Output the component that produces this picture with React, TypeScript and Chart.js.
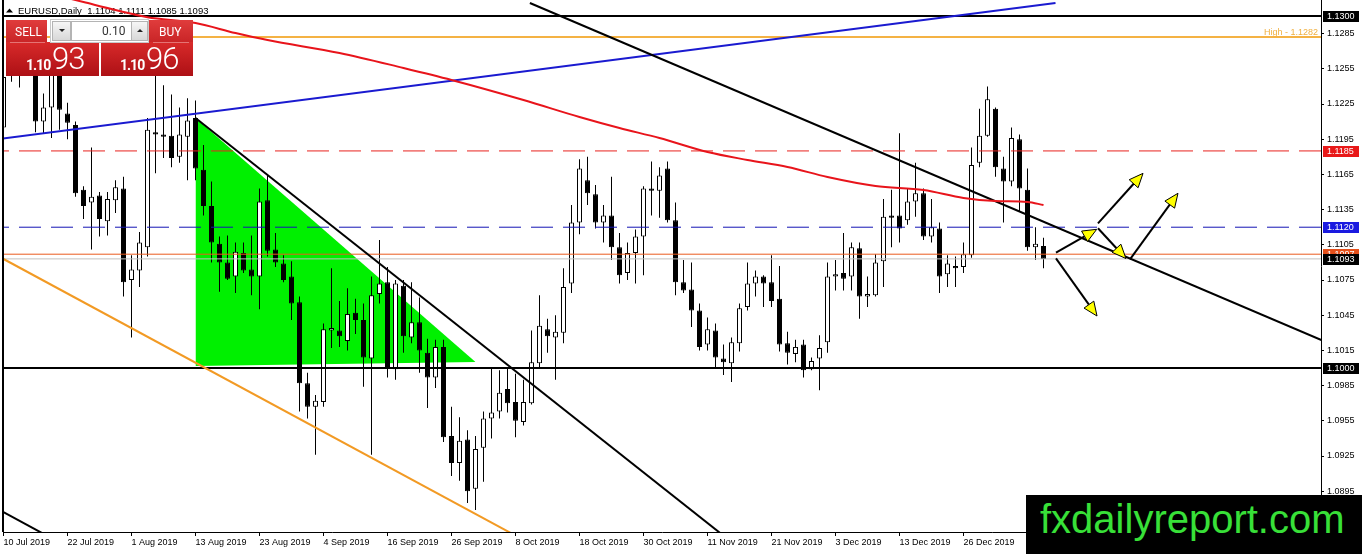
import React, { useEffect, useRef } from "react";
import { Chart, registerables } from "chart.js";

Chart.register(...registerables);

// ---------------- data ----------------
const barOpen = [
  1.1205, 1.1249, 1.1255, 1.1271, 1.1262, 1.121, 1.1222, 1.1274, 1.1217, 1.1207,
  1.1152, 1.1141, 1.1147, 1.1125, 1.1143, 1.1153, 1.1075, 1.1083, 1.1103, 1.1201,
  1.1199, 1.1198, 1.118, 1.1197, 1.1213, 1.1169, 1.1138, 1.1106, 1.109, 1.1078,
  1.1098, 1.1084, 1.1078, 1.1143, 1.1101, 1.1089, 1.1078, 1.1056, 1.0987, 1.0967,
  1.0971, 1.1032, 1.1032, 1.1023, 1.1047, 1.1041, 1.1008, 1.1063, 1.1073, 1.0999,
  1.107, 1.1026, 1.1039, 1.1013, 1.0992, 1.1018, 1.0942, 1.0919, 1.0939, 1.0897,
  1.0932, 1.0957, 1.0963, 1.0982, 1.0971, 1.0954, 1.097, 1.1004, 1.1033, 1.1026,
  1.103, 1.1072, 1.1124, 1.116, 1.1148, 1.1124, 1.113, 1.1103, 1.1081, 1.1098,
  1.1112, 1.1153, 1.1151, 1.117, 1.1126, 1.1073, 1.1067, 1.1049, 1.102, 1.1032,
  1.1008, 1.1004, 1.1021, 1.1052, 1.1072, 1.1078, 1.1073, 1.1059, 1.1021, 1.1012,
  1.102, 1.0999, 1.1008, 1.1022, 1.1078, 1.1081, 1.1078, 1.1102, 1.1061, 1.1062,
  1.1091, 1.113, 1.113, 1.1126, 1.1142, 1.1149, 1.1112, 1.1119, 1.108, 1.1087,
  1.1086, 1.1096, 1.1175, 1.1198, 1.1221, 1.117, 1.1159, 1.1195, 1.1152, 1.1103,
  1.1104,
];
const barHigh = [
  1.1264, 1.1281, 1.1279, 1.1282, 1.1268, 1.1234, 1.1282, 1.1278, 1.1226, 1.121,
  1.1155, 1.1188, 1.115, 1.115, 1.116, 1.1163, 1.1096, 1.1116, 1.1213, 1.125,
  1.1241, 1.1233, 1.1222, 1.123, 1.1228, 1.119, 1.1159, 1.1112, 1.1113, 1.1107,
  1.1107, 1.1113, 1.1153, 1.1164, 1.1115, 1.1096, 1.1091, 1.1061, 1.0996, 1.0977,
  1.1038, 1.1085, 1.1057, 1.1068, 1.1059, 1.1055, 1.1078, 1.1109, 1.1086, 1.1075,
  1.1075, 1.1073, 1.106, 1.1025, 1.1024, 1.1024, 1.0967, 1.0958, 1.0947, 1.0942,
  1.0963, 1.1, 1.0998, 1.1, 1.0995, 1.099, 1.1032, 1.1062, 1.1042, 1.1045,
  1.1085, 1.1139, 1.1178, 1.118, 1.1156, 1.1139, 1.1163, 1.1115, 1.1107, 1.1118,
  1.1155, 1.1176, 1.1171, 1.1176, 1.1141, 1.1092, 1.109, 1.1055, 1.1043, 1.1038,
  1.102, 1.1026, 1.1055, 1.109, 1.1083, 1.1079, 1.1096, 1.1087, 1.1031, 1.1024,
  1.1024, 1.1009, 1.1028, 1.109, 1.1092, 1.1115, 1.1107, 1.1107, 1.1078, 1.1097,
  1.1144, 1.1152, 1.12, 1.1153, 1.1175, 1.1153, 1.1144, 1.1124, 1.1096, 1.1095,
  1.1107, 1.1188, 1.1221, 1.124, 1.1222, 1.118, 1.1205, 1.1199, 1.117, 1.112,
  1.1111,
];
const barLow = [
  1.1199, 1.1244, 1.1239, 1.1252, 1.1201, 1.12, 1.1196, 1.1203, 1.1195, 1.1146,
  1.1127, 1.1101, 1.1112, 1.1113, 1.1132, 1.1061, 1.1026, 1.1069, 1.1095, 1.1166,
  1.1179, 1.1171, 1.1175, 1.116, 1.116, 1.113, 1.109, 1.1065, 1.1075, 1.1064,
  1.1081, 1.1062, 1.105, 1.1095, 1.1086, 1.1073, 1.1041, 1.0963, 1.0957, 1.0926,
  1.0967, 1.1017, 1.1018, 1.1015, 1.1029, 1.0984, 1.0926, 1.1055, 1.0992, 1.099,
  1.1013, 1.1021, 1.0996, 1.0966, 1.0983, 1.0937, 1.0908, 1.0904, 1.0885, 1.0879,
  1.0903, 1.094, 1.0957, 1.0962, 1.0941, 1.0951, 1.0969, 1.1, 1.1013, 1.099,
  1.1021, 1.1064, 1.1114, 1.1139, 1.1119, 1.1107, 1.1092, 1.1072, 1.1075, 1.1072,
  1.1079, 1.113, 1.1128, 1.1124, 1.1062, 1.1064, 1.1035, 1.1015, 1.1015, 1.1,
  1.0994, 1.0988, 1.1014, 1.1049, 1.1061, 1.1052, 1.1052, 1.1014, 1.1003, 1.1005,
  1.0992, 1.0998, 1.0981, 1.1013, 1.1066, 1.1066, 1.1066, 1.1042, 1.1052, 1.1061,
  1.1069, 1.1103, 1.1107, 1.1122, 1.1129, 1.1109, 1.1107, 1.1064, 1.1069, 1.1069,
  1.1081, 1.1094, 1.1171, 1.1197, 1.1163, 1.1124, 1.1155, 1.1133, 1.11, 1.1092,
  1.1085,
];
const barClose = [
  1.1248, 1.1255, 1.1271, 1.1262, 1.121, 1.1222, 1.1274, 1.122, 1.1209, 1.1149,
  1.1138, 1.1146, 1.1127, 1.1144, 1.1154, 1.1073, 1.1084, 1.1107, 1.1203, 1.1199,
  1.1197, 1.1179, 1.1199, 1.1211, 1.117, 1.1138, 1.1107, 1.109, 1.1076, 1.1099,
  1.1083, 1.1078, 1.1142, 1.11, 1.109, 1.1075, 1.1055, 1.0987, 1.0967, 1.0972,
  1.1033, 1.1034, 1.1027, 1.1046, 1.1041, 1.1009, 1.1062, 1.1072, 1.1, 1.1072,
  1.1027, 1.1039, 1.1015, 1.0992, 1.1018, 1.0941, 1.0919, 1.0938, 1.0895, 1.0931,
  1.0957, 1.0962, 1.0979, 1.097, 1.0955, 1.0971, 1.1005, 1.1036, 1.1027, 1.1031,
  1.1069, 1.1124, 1.117, 1.1149, 1.1124, 1.113, 1.1103, 1.1079, 1.1098, 1.1112,
  1.1153, 1.1151, 1.1164, 1.1126, 1.1073, 1.1066, 1.1049, 1.1018, 1.1033, 1.1009,
  1.1005, 1.1022, 1.1051, 1.1072, 1.1078, 1.1072, 1.1057, 1.102, 1.1013, 1.1018,
  1.0998, 1.1006, 1.1017, 1.1078, 1.108, 1.1076, 1.1103, 1.1061, 1.1063, 1.109,
  1.1129, 1.1128, 1.1119, 1.1142, 1.1149, 1.1112, 1.112, 1.1078, 1.1089, 1.1085,
  1.1097, 1.1173, 1.1198, 1.1229, 1.1171, 1.1159, 1.1196, 1.1153, 1.1103, 1.1106,
  1.1093,
];

const dateTickIndex = [0, 8, 16, 24, 32, 40, 48, 56, 64, 72, 80, 88, 96, 104, 112, 120];
const dateTickLabels = [
  "10 Jul 2019", "22 Jul 2019", "1 Aug 2019", "13 Aug 2019", "23 Aug 2019", "4 Sep 2019",
  "16 Sep 2019", "26 Sep 2019", "8 Oct 2019", "18 Oct 2019", "30 Oct 2019", "11 Nov 2019",
  "21 Nov 2019", "3 Dec 2019", "13 Dec 2019", "26 Dec 2019",
];
const priceTicks = [
  1.0895, 1.0925, 1.0955, 1.0985, 1.1015, 1.1045, 1.1075, 1.1105, 1.1135, 1.1165, 1.1195,
  1.1225, 1.1255, 1.1285,
];

// moving average (red curve)
const maIndex = [8, 10, 14, 18, 24, 29, 33, 42, 50, 56, 65, 72, 77, 82, 88, 93, 98, 103, 109, 115, 120, 124, 128, 130];
const maValue = [
  1.13153, 1.13119, 1.13051, 1.1299, 1.1294, 1.12855, 1.12795, 1.12685, 1.12557, 1.12455,
  1.12284, 1.12139, 1.12045, 1.1196, 1.11841, 1.11773, 1.11713, 1.11628, 1.11551, 1.11517,
  1.11449, 1.11423, 1.11415, 1.11389,
];

// trend lines: [startIndex, startPrice, endIndex, endPrice]
const trendBlue = [-1, 1.11947, 131.5, 1.13111];
const trendBlackLong = [65.8, 1.13111, 165, 1.1023];
const trendBlackTriangle = [24, 1.12131, 90, 1.08571];
const trendOrange = [0, 1.10929, 64, 1.08572];
const trendBlackShort = [-1, 1.08808, 6, 1.0855];

// green triangle
const triangleIndex = [24, 59];
const triangleTopPrice = [1.12131, 1.10051];
const triangleBasePrice = [1.10017, 1.10051];

// horizontal levels
const levelPrice = [1.13, 1.1282, 1.1185, 1.112, 1.1097, 1.1093, 1.1];
// price boxes on the axis
const boxPrice = [1.13, 1.1185, 1.112, 1.1097, 1.1093, 1.1];

// arrows
const arrowFromIndex = [131.56, 136.81, 136.81, 140.81, 131.56];
const arrowFromPrice = [1.10983, 1.11191, 1.11233, 1.10926, 1.10935];
const arrowToIndex = [136.65, 140.31, 142.44, 146.81, 136.69];
const arrowToPrice = [1.11182, 1.10933, 1.11659, 1.11489, 1.10443];

const symbolTitle = "EURUSD,Daily";
const quoteValues = ["1.1104", "1.1111", "1.1085", "1.1093"];
const lotSize = "0.10";
const sellQuote = ["1.10", "93"];
const buyQuote = ["1.10", "96"];
const watermark = "fxdailyreport.com";

// ---------------- styles ----------------
const FONT = "'Liberation Sans', Arial, sans-serif";
const X_MIN = -0.0625;
const X_MAX = X_MIN + 1318 / 8;
const Y_MIN = 1.086023;
const Y_MAX = 1.131364;

const levelStyle = [
  { color: "#000000", width: 2, dash: [] as number[] },
  { color: "#f4b244", width: 2, dash: [] as number[] },
  { color: "#e8221e", width: 1, dash: [22, 10] },
  { color: "#1414b4", width: 1, dash: [22, 10] },
  { color: "#ea5a1e", width: 1, dash: [] as number[] },
  { color: "#c0c0c0", width: 1, dash: [] as number[] },
  { color: "#000000", width: 2, dash: [] as number[] },
];
const boxColor = ["#000000", "#e81818", "#1a1ae0", "#e5501b", "#000000", "#000000"];

const seg = (t: number[]) => [
  { x: t[0], y: t[1] },
  { x: t[2], y: t[3] },
];

const mt4Plugin = {
  id: "mt4Decor",
  beforeDatasetsDraw(chart: any) {
    const ctx = chart.ctx as CanvasRenderingContext2D;
    ctx.save();
    ctx.fillStyle = "#000";
    ctx.beginPath();
    ctx.moveTo(6, 12.5);
    ctx.lineTo(13, 12.5);
    ctx.lineTo(9.5, 8.5);
    ctx.closePath();
    ctx.fill();
    ctx.font = `9.5px ${FONT}`;
    ctx.textBaseline = "alphabetic";
    ctx.textAlign = "left";
    ctx.fillText(`${symbolTitle}  ${quoteValues.join(" ")}`, 18, 13.5);
    ctx.restore();
  },
  afterDatasetsDraw(chart: any) {
    const ctx = chart.ctx as CanvasRenderingContext2D;
    const xs = chart.scales.x;
    const ys = chart.scales.y;
    const ca = chart.chartArea;
    ctx.save();
    ctx.beginPath();
    ctx.rect(ca.left, ca.top, ca.right - ca.left, ca.bottom - ca.top);
    ctx.clip();
    for (let k = 0; k < arrowFromIndex.length; k++) {
      const x0 = xs.getPixelForValue(arrowFromIndex[k]);
      const y0 = ys.getPixelForValue(arrowFromPrice[k]);
      const x1 = xs.getPixelForValue(arrowToIndex[k]);
      const y1 = ys.getPixelForValue(arrowToPrice[k]);
      const dx = x1 - x0;
      const dy = y1 - y0;
      const len = Math.hypot(dx, dy);
      const ux = dx / len;
      const uy = dy / len;
      const hl = 14;
      const hw = 6;
      const bx = x1 - ux * hl;
      const by = y1 - uy * hl;
      ctx.strokeStyle = "#000";
      ctx.lineWidth = 2;
      ctx.beginPath();
      ctx.moveTo(x0, y0);
      ctx.lineTo(bx, by);
      ctx.stroke();
      ctx.beginPath();
      ctx.moveTo(x1, y1);
      ctx.lineTo(bx - uy * hw, by + ux * hw);
      ctx.lineTo(bx + uy * hw, by - ux * hw);
      ctx.closePath();
      ctx.fillStyle = "#ffff00";
      ctx.fill();
      ctx.lineWidth = 1;
      ctx.stroke();
    }
    // label of the high line
    ctx.font = `9px ${FONT}`;
    ctx.fillStyle = "#f0b040";
    ctx.textAlign = "right";
    ctx.textBaseline = "alphabetic";
    ctx.fillText(`High - ${levelPrice[1].toFixed(4)}`, ca.right - 3, ys.getPixelForValue(levelPrice[1]) - 2.5);
    ctx.restore();
  },
  afterDraw(chart: any) {
    const ctx = chart.ctx as CanvasRenderingContext2D;
    const ys = chart.scales.y;
    const ca = chart.chartArea;
    ctx.save();
    ctx.fillStyle = "#000";
    ctx.fillRect(ca.left - 1, ca.top, 2, ca.bottom - ca.top);
    ctx.font = `9px ${FONT}`;
    ctx.textBaseline = "middle";
    ctx.textAlign = "left";
    boxPrice.forEach((p, k) => {
      const y = Math.round(ys.getPixelForValue(p));
      ctx.fillStyle = boxColor[k];
      ctx.fillRect(ca.right + 2, y - 5, 36, 11);
      ctx.fillStyle = "#fff";
      ctx.fillText(p.toFixed(4), ca.right + 6, y + 0.5);
    });
    ctx.restore();
  },
};

function buildConfig(): any {
  const bodies = barOpen.map((o, i) => ({
    x: i,
    y: [Math.min(o, barClose[i]), Math.max(o, barClose[i])],
  }));
  const wicks = barOpen.map((_, i) => ({ x: i, y: [barLow[i], barHigh[i]] }));
  const bodyColors = barOpen.map((o, i) => (barClose[i] >= o ? "#ffffff" : "#000000"));

  const lineBase = {
    type: "line",
    pointRadius: 0,
    fill: false,
    tension: 0,
  };

  const levelSets = levelPrice.map((p, k) => ({
    ...lineBase,
    data: [
      { x: X_MIN - 2, y: p },
      { x: X_MAX + 2, y: p },
    ],
    borderColor: levelStyle[k].color,
    borderWidth: levelStyle[k].width,
    borderDash: levelStyle[k].dash,
    order: 3,
  }));

  return {
    type: "bar",
    data: {
      datasets: [
        {
          ...lineBase,
          data: triangleIndex.map((x, k) => ({ x, y: triangleTopPrice[k] })),
          borderWidth: 0,
          fill: "+1",
          backgroundColor: "#00f000",
          order: 20,
        },
        {
          ...lineBase,
          data: triangleIndex.map((x, k) => ({ x, y: triangleBasePrice[k] })),
          borderWidth: 0,
          order: 21,
        },
        {
          type: "bar",
          data: wicks,
          backgroundColor: "#000000",
          borderWidth: 0,
          barThickness: 1,
          grouped: false,
          inflateAmount: 0,
          order: 11,
        },
        {
          type: "bar",
          data: bodies,
          backgroundColor: bodyColors,
          borderColor: "#000000",
          borderWidth: 1,
          borderSkipped: false,
          barThickness: 5,
          grouped: false,
          inflateAmount: 0,
          order: 10,
        },
        ...levelSets,
        { ...lineBase, data: seg(trendOrange), borderColor: "#f29a24", borderWidth: 2, order: 2 },
        { ...lineBase, data: seg(trendBlackShort), borderColor: "#000000", borderWidth: 2, order: 2 },
        { ...lineBase, data: seg(trendBlackTriangle), borderColor: "#000000", borderWidth: 2, order: 2 },
        { ...lineBase, data: seg(trendBlackLong), borderColor: "#000000", borderWidth: 2, order: 2 },
        { ...lineBase, data: seg(trendBlue), borderColor: "#1a1ad0", borderWidth: 2, order: 2 },
        {
          ...lineBase,
          data: maIndex.map((x, k) => ({ x, y: maValue[k] })),
          borderColor: "#e8141b",
          borderWidth: 2,
          cubicInterpolationMode: "monotone",
          order: 1,
        },
      ],
    },
    options: {
      responsive: false,
      animation: false,
      events: [],
      layout: { padding: { left: 3, top: 0, right: 0, bottom: 0 } },
      plugins: { legend: { display: false }, tooltip: { enabled: false } },
      scales: {
        x: {
          type: "linear",
          min: X_MIN,
          max: X_MAX,
          bounds: "data",
          offset: false,
          grid: { display: true, drawOnChartArea: false, drawTicks: true, tickLength: 4, color: "#000", offset: false },
          border: { display: true, color: "#000", width: 1 },
          ticks: {
            autoSkip: false,
            maxRotation: 0,
            minRotation: 0,
            align: "start",
            padding: 1,
            color: "#000",
            font: { family: FONT, size: 9 },
            callback: (_v: any, idx: number) => dateTickLabels[idx] ?? "",
          },
          afterBuildTicks: (s: any) => {
            s.ticks = dateTickIndex.map((v) => ({ value: v }));
          },
          afterFit: (s: any) => {
            s.height = 22;
            s.paddingLeft = 0;
            s.paddingRight = 0;
            s.paddingTop = 0;
            s.paddingBottom = 0;
          },
        },
        y: {
          type: "linear",
          position: "right",
          min: Y_MIN,
          max: Y_MAX,
          bounds: "data",
          beginAtZero: false,
          grid: { display: true, drawOnChartArea: false, drawTicks: true, tickLength: 3, color: "#000" },
          border: { display: true, color: "#000", width: 1 },
          ticks: {
            padding: 3,
            color: "#000",
            font: { family: FONT, size: 9 },
            callback: (v: any) => Number(v).toFixed(4),
          },
          afterBuildTicks: (s: any) => {
            s.ticks = priceTicks.map((v) => ({ value: v }));
          },
          afterFit: (s: any) => {
            s.width = 41;
            s.paddingLeft = 0;
            s.paddingRight = 0;
            s.paddingTop = 0;
            s.paddingBottom = 0;
          },
        },
      },
    },
    plugins: [mt4Plugin],
  };
}

const ROBOTO = "Roboto, 'Liberation Sans', sans-serif";

function Txt(props: {
  x: number;
  baseline: number;
  size: number;
  color: string;
  text: string;
  weight?: number;
  family?: string;
  spacing?: number;
}) {
  const top = props.baseline - 0.845 * props.size;
  return (
    <div
      style={{
        position: "absolute",
        left: props.x,
        top,
        fontSize: props.size,
        lineHeight: `${props.size}px`,
        fontWeight: props.weight ?? 400,
        color: props.color,
        fontFamily: props.family ?? ROBOTO,
        letterSpacing: props.spacing ?? 0,
        whiteSpace: "nowrap",
      }}
    >
      {props.text}
    </div>
  );
}

function TradePanel() {
  const abs: React.CSSProperties = { position: "absolute", boxSizing: "border-box" };
  const head = "linear-gradient(#e03c3c, #c92527)";
  const price = "linear-gradient(#d82a2a, #ad1015)";
  const btn = "linear-gradient(#f6f6f6, #d8d8d8)";
  return (
    <>
      <div style={{ ...abs, left: 6, top: 20, width: 41, height: 22, background: head }} />
      <div style={{ ...abs, left: 149, top: 20, width: 44, height: 22, background: head }} />
      <div style={{ ...abs, left: 6, top: 42, width: 93, height: 34, background: price }} />
      <div style={{ ...abs, left: 101, top: 42, width: 92, height: 34, background: price }} />
      <div style={{ ...abs, left: 10, top: 42, width: 35, height: 1, background: "rgba(255,255,255,0.35)" }} />
      <div style={{ ...abs, left: 153, top: 42, width: 36, height: 1, background: "rgba(255,255,255,0.35)" }} />
      <div style={{ ...abs, left: 50, top: 19, width: 99, height: 24, background: "#ffffff", border: "1px solid #c8c8c8" }} />
      <div style={{ ...abs, left: 52, top: 21, width: 19, height: 20, background: btn, border: "1px solid #b4b4b4" }} />
      <div style={{ ...abs, left: 71, top: 21, width: 61, height: 20, background: "#ffffff", border: "1px solid #b4b4b4" }} />
      <div style={{ ...abs, left: 131, top: 21, width: 17, height: 20, background: btn, border: "1px solid #b4b4b4" }} />
      <div
        style={{
          ...abs,
          left: 59,
          top: 29,
          width: 0,
          height: 0,
          borderLeft: "3px solid transparent",
          borderRight: "3px solid transparent",
          borderTop: "3px solid #222",
        }}
      />
      <div
        style={{
          ...abs,
          left: 137,
          top: 29,
          width: 0,
          height: 0,
          borderLeft: "3px solid transparent",
          borderRight: "3px solid transparent",
          borderBottom: "3px solid #222",
        }}
      />
      <Txt x={15} baseline={36} size={12} color="#ffffff" text="SELL" />
      <Txt x={159} baseline={36} size={12} color="#ffffff" text="BUY" />
      <Txt x={102} baseline={35} size={12} color="#333333" text={lotSize} />
      <Txt x={26} baseline={70} size={14} weight={700} spacing={-1} color="#ffffff" text={sellQuote[0]} />
      <Txt x={52} baseline={69} size={31} weight={300} spacing={-1} color="#ffffff" text={sellQuote[1]} />
      <Txt x={120} baseline={70} size={14} weight={700} spacing={-1} color="#ffffff" text={buyQuote[0]} />
      <Txt x={146} baseline={69} size={31} weight={300} spacing={-1} color="#ffffff" text={buyQuote[1]} />
    </>
  );
}

export default function App() {
  const ref = useRef<HTMLCanvasElement>(null);
  useEffect(() => {
    document.body.style.margin = "0";
    const chart = new Chart(ref.current as HTMLCanvasElement, buildConfig());
    return () => chart.destroy();
  }, []);
  return (
    <div
      style={{
        position: "fixed",
        left: 0,
        top: 0,
        width: 1362,
        height: 554,
        background: "#ffffff",
        overflow: "hidden",
      }}
    >
      <canvas
        ref={ref}
        width={1362}
        height={554}
        style={{ display: "block", width: 1362, height: 554 }}
      />
      <TradePanel />
      <div
        style={{
          position: "absolute",
          left: 1026,
          top: 495,
          width: 336,
          height: 59,
          background: "#000000",
        }}
      />
      <Txt x={1040} baseline={533} size={40} family={FONT} color="#38e038" text={watermark} />
    </div>
  );
}
